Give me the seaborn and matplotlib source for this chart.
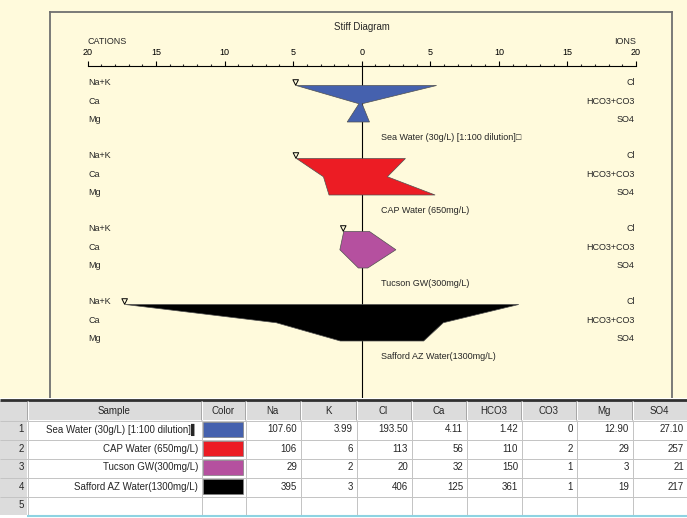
import numpy as np
import matplotlib
matplotlib.use('Agg')
import matplotlib.pyplot as plt
from matplotlib import font_manager
from matplotlib.patches import Rectangle
from matplotlib.ticker import MultipleLocator, FuncFormatter
from matplotlib.transforms import offset_copy
import seaborn as sns

########################################################################
#                                 Data                                 #
########################################################################
samples = ['Sea Water (30g/L) [1:100 dilution]', 'CAP Water (650mg/L)',
           'Tucson GW(300mg/L)', 'Safford AZ Water(1300mg/L)']
colors = ['#4561ae', '#ec1c24', '#b5509f', '#000000']

# mg/L, as in the table
na = [107.6, 106, 29, 395]
k = [3.99, 6, 2, 3]
cl = [193.5, 113, 20, 406]
ca = [4.11, 56, 32, 125]
hco3 = [1.42, 110, 150, 361]
co3 = [0, 2, 1, 1]
mg = [12.9, 29, 3, 19]
so4 = [27.1, 257, 21, 217]

cation_labels = ['Na+K', 'Ca', 'Mg']
anion_labels = ['Cl', 'HCO3+CO3', 'SO4']
table_cols = ['Na', 'K', 'Cl', 'Ca', 'HCO3', 'CO3', 'Mg', 'SO4']

# equivalent weights (mg/meq)
eq_w = {'Na': 22.99, 'K': 39.10, 'Cl': 35.45, 'Ca': 20.04,
        'HCO3': 61.02, 'CO3': 30.00, 'Mg': 12.15, 'SO4': 48.03}

# meq/L
cat = np.column_stack([np.array(na) / eq_w['Na'] + np.array(k) / eq_w['K'],
                       np.array(ca) / eq_w['Ca'],
                       np.array(mg) / eq_w['Mg']])
an = np.column_stack([np.array(cl) / eq_w['Cl'],
                      np.array(hco3) / eq_w['HCO3'] + np.array(co3) / eq_w['CO3'],
                      np.array(so4) / eq_w['SO4']])

########################################################################
#                                Layout                                #
########################################################################
W, H, DPI = 687, 518, 100
CREAM = '#fffadc'

sns.set_theme(style='white')
names = {f.name for f in font_manager.fontManager.ttflist}
base_font = 'Liberation Sans Narrow' if 'Liberation Sans Narrow' in names else 'Liberation Sans'
plt.rcParams['font.family'] = [base_font, 'DejaVu Sans']

fig = plt.figure(figsize=(W / DPI, H / DPI), dpi=DPI, facecolor=CREAM)


def px_rect(l, t, r, b):
    return [l / W, 1 - b / H, (r - l) / W, (b - t) / H]


# pixel <-> data mapping of the stiff panel
X0, SX = 361.75, 13.71   # centre line, px per meq
Y0, SY = 85.5, 18.25     # first row, px per row
FL, FT, FR, FB = 50, 12, 672, 398

ax = fig.add_axes(px_rect(FL, FT, FR, FB))
ax.set_facecolor(CREAM)
ax.set_xlim((FL - X0) / SX, (FR - X0) / SX)
ax.set_ylim((FB - Y0) / SY, (FT - Y0) / SY)
ax.set_xticks([])
ax.set_yticks([])
for side in ['left', 'right', 'top']:
    ax.spines[side].set_color('#707070')
    ax.spines[side].set_linewidth(1.3)
ax.spines['bottom'].set_visible(False)

fs = 6.5
txt_dy = -0.14
axis_y = (66 - Y0) / SY

ax.text(0, (27 - Y0) / SY, 'Stiff Diagram', ha='center', va='center', fontsize=fs + 0.4)
ax.text(-20, (41 - Y0) / SY, 'CATIONS', ha='left', va='center', fontsize=fs)
ax.text(20, (41 - Y0) / SY, 'IONS', ha='right', va='center', fontsize=fs)

# centre line
ax.vlines(0, axis_y, (FB - Y0) / SY, color='black', lw=0.8, zorder=1)

marker_tr = offset_copy(ax.transData, fig=fig, x=-0.5, y=3.0, units='dots')
for i, name in enumerate(samples):
    r0 = 4 * i
    rows = np.arange(3) + r0
    xs = np.concatenate([-cat[i], an[i][::-1]])
    ys = np.concatenate([rows, rows[::-1]])
    ax.fill(xs, ys, facecolor=colors[i], edgecolor='#505050', lw=0.5, zorder=3)
    for j in range(3):
        ax.text(-19.95, rows[j] + txt_dy, cation_labels[j], ha='left', va='center', fontsize=fs)
        ax.text(19.9, rows[j] + txt_dy, anion_labels[j], ha='right', va='center', fontsize=fs)
    suffix = '\u25a1' if i == 0 else ''
    ax.text(1.4, r0 + 3 + txt_dy, name + suffix, ha='left', va='center', fontsize=fs)

sns.scatterplot(x=-cat[:, 0], y=np.arange(4) * 4.0, marker='v', s=16,
                facecolor='none', edgecolor='black', linewidth=0.7,
                transform=marker_tr, ax=ax, zorder=5, legend=False)

# scale bar
sc = fig.add_axes(px_rect(87.5, 65.5, 636, 66.5))
sc.set_facecolor('none')
sc.set_xlim(-20, 20)
sc.set_yticks([])
for side in ['left', 'right', 'bottom']:
    sc.spines[side].set_visible(False)
sc.spines['top'].set_color('black')
sc.spines['top'].set_linewidth(0.8)
sc.xaxis.set_ticks_position('top')
sc.xaxis.set_major_locator(MultipleLocator(5))
sc.xaxis.set_minor_locator(MultipleLocator(1))
sc.xaxis.set_major_formatter(FuncFormatter(lambda v, p: f'{abs(v):g}'))
sc.tick_params(axis='x', which='major', direction='out', length=3.8, width=0.8,
               pad=2.5, labelsize=fs, colors='black')
sc.tick_params(axis='x', which='minor', direction='out', length=1.6, width=0.8)

########################################################################
#                                 Table                                #
########################################################################
tb = fig.add_axes(px_rect(0, 398, W, H))
tb.set_xlim(0, W)
tb.set_ylim(H, 398)
tb.axis('off')

num_w = (W - 245) / len(table_cols)
col_edges = [0, 27, 201, 245] + [round(245 + num_w * (c + 1)) for c in range(len(table_cols))]
row_edges = [401, 420, 439, 458, 477, 496, 515]
headers = ['', 'Sample', 'Color'] + table_cols
GREY = '#dcdcdc'
GRID = '#c4c4c4'
tfs = 7.0

tb.add_patch(Rectangle((0, 398), W, H - 398, facecolor='white', lw=0))
tb.add_patch(Rectangle((0, 401), W, 19, facecolor=GREY, lw=0))
tb.add_patch(Rectangle((0, 401), 27, 114, facecolor=GREY, lw=0))
tb.hlines(399.5, 0, W, color='#303030', lw=2.0)

# grid lines sit on pixel centres so they stay one pixel thick
for x in col_edges[1:-1]:
    tb.vlines(x + 0.5, 401, 420, color='white', lw=0.72)
    tb.vlines(x - 0.5, 401, 420, color='#a8a8a8', lw=0.72)
    tb.vlines(x + 0.5, 420, 515, color=GRID, lw=0.72)
for y in row_edges[1:-1]:
    tb.hlines(y + 0.5, 0, W, color=GRID, lw=0.72)
tb.hlines(515.5, 27, W, color='#8ed3e2', lw=1.5)

for c, h in enumerate(headers):
    if h:
        tb.text((col_edges[c] + col_edges[c + 1]) / 2, 411, h, ha='center', va='center', fontsize=tfs)


def fmt(v):
    return f'{v:g}' if float(v).is_integer() else f'{v:.2f}'


table_vals = [na, k, cl, ca, hco3, co3, mg, so4]
for r in range(5):
    yc = (row_edges[r + 1] + row_edges[r + 2]) / 2
    tb.text(24, yc, str(r + 1), ha='right', va='center', fontsize=tfs)
    if r >= len(samples):
        continue
    suffix = '\u258c' if r == 0 else ''
    tb.text(col_edges[2] - 3, yc, samples[r] + suffix, ha='right', va='center', fontsize=tfs)
    tb.add_patch(Rectangle((col_edges[2] + 2, row_edges[r + 1] + 2),
                           col_edges[3] - col_edges[2] - 4, row_edges[r + 2] - row_edges[r + 1] - 4,
                           facecolor=colors[r], edgecolor='#808080', lw=0.5))
    for c, vals in enumerate(table_vals):
        tb.text(col_edges[c + 4] - 3, yc, fmt(vals[r]), ha='right', va='center', fontsize=tfs)

fig.savefig('out.png', dpi=DPI, facecolor=CREAM)
